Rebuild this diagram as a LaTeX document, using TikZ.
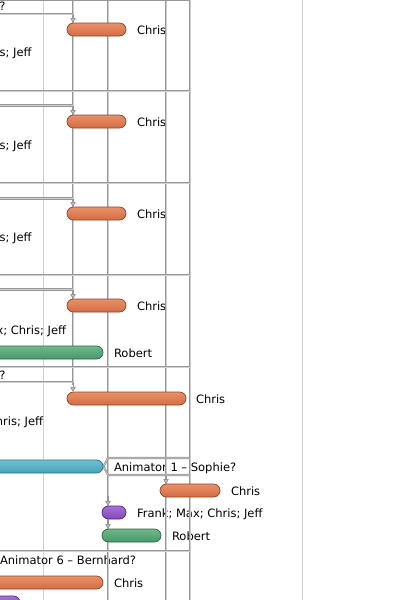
\documentclass[tikz,border=0pt]{standalone}
\usepackage{fontspec}
\setmainfont{DejaVu Sans}
\usetikzlibrary{arrows.meta,calc}
\definecolor{orgfill}{HTML}{D56C44}
\definecolor{orgtop}{HTML}{E8916A}
\definecolor{orgline}{HTML}{8C4529}
\definecolor{grnfill}{HTML}{47996A}
\definecolor{grntop}{HTML}{6DB98A}
\definecolor{grnline}{HTML}{2E6644}
\definecolor{tealfill}{HTML}{44A2B8}
\definecolor{tealtop}{HTML}{6FC0D2}
\definecolor{tealline}{HTML}{2C7486}
\definecolor{purfill}{HTML}{8448BA}
\definecolor{purtop}{HTML}{A870D8}
\definecolor{purline}{HTML}{55297D}
\definecolor{gridc}{HTML}{979797}
\definecolor{gridin}{HTML}{CFCFCF}
\begin{document}
\begin{tikzpicture}[x=1pt,y=-1pt,
  every node/.style={font=\fontsize{11.5}{14}\selectfont, inner sep=0pt, outer sep=0pt},
  gline/.style={draw=gridc, line width=0.75pt, double=gridin, double distance=0.6pt},
  faint/.style={draw=black!18, line width=0.8pt},
  bar/.style={rounded corners=6.5pt, minimum height=13pt, line width=0.7pt},
  obar/.style={bar, draw=orgline, top color=orgtop, bottom color=orgfill},
  gbar/.style={bar, draw=grnline, top color=grntop, bottom color=grnfill},
  tbar/.style={bar, draw=tealline, top color=tealtop, bottom color=tealfill},
  pbar/.style={bar, draw=purline, top color=purtop, bottom color=purfill},
  lbl/.style={anchor=base west},
  lblr/.style={anchor=base east},
  tip/.style={draw=gridc, line width=0.9pt, -{Triangle[width=5.5pt,length=5pt,fill=gridin]}},
]
\useasboundingbox (0,0) rectangle (404,600);
\fill[white] (0,0) rectangle (404,600);
\clip (0,0) rectangle (404,600);

% faint calendar lines
\draw[faint] (43.5,0) -- (43.5,600);
\draw[faint] (302,0) -- (302,600);

% text labels
\node[lblr] (qA) at (5.5,10.5) {?};
\node[lblr] (resA) at (31.5,56.5) {Frank; Max; Chris; Jeff};
\node[lblr] (resB) at (31.5,149.5) {Frank; Max; Chris; Jeff};
\node[lblr] (resC) at (31.5,241.5) {Frank; Max; Chris; Jeff};
\node[lblr] (resD) at (66,334.5) {Frank; Max; Chris; Jeff};
\node[lblr] (qE) at (5.5,379.5) {?};
\node[lblr] (resE) at (43,425.5) {Frank; Max; Chris; Jeff};

\node[lbl] (cA) at (137,34) {Chris};
\node[lbl] (cB) at (137,126) {Chris};
\node[lbl] (cC) at (137,218) {Chris};
\node[lbl] (cD) at (137,310) {Chris};
\node[lbl] (rD) at (114,357) {Robert};
\node[lbl] (cE) at (196,403) {Chris};
\node[lbl] (anF) at (114,471) {Animator 1 – Sophie?};
\node[lbl] (cF) at (231,495) {Chris};
\node[lbl] (fF) at (137,517) {Frank; Max; Chris; Jeff};
\node[lbl] (rF) at (172,540) {Robert};
\node[lbl] (anG) at (0,564) {Animator 6 – Bernhard?};
\node[lbl] (cG) at (114,587) {Chris};

% grid / connector lines
\draw[gline] (73,-2) -- (73,385);
\draw[gline] (108,-2) -- (108,602);
\draw[gline] (166,-2) -- (166,602);
\draw[gline] (190,-2) -- (190,602);
\draw[gline] (-2,-0.5) -- (190,-0.5);
\draw[gline] (-2,14) -- (73,14);
\draw[gline] (-2,91) -- (190,91);
\draw[gline] (-2,105.5) -- (73,105.5);
\draw[gline] (-2,183) -- (190,183);
\draw[gline] (-2,198.5) -- (73,198.5);
\draw[gline] (-2,275) -- (190,275);
\draw[gline] (-2,289.5) -- (73,289.5);
\draw[gline] (-2,367) -- (190,367);
\draw[gline] (-2,382) -- (73,382);
\draw[gline] (190,458) -- (108,458) -- (103.5,466.5) -- (108,475) -- (190,475);
\draw[gline] (-2,551) -- (190,551);

% bars
\node[obar, minimum width=59pt] (bA) at (96.5,29.5) {};
\node[obar, minimum width=59pt] (bB) at (96.5,121.5) {};
\node[obar, minimum width=59pt] (bC) at (96.5,213.5) {};
\node[obar, minimum width=59pt] (bD) at (96.5,305.5) {};
\node[gbar, minimum width=110pt] (gD) at (48,352.5) {};
\node[obar, minimum width=119pt] (bE) at (126.5,398.5) {};
\node[tbar, minimum width=110pt] (tF) at (48,466.5) {};
\node[obar, minimum width=60pt] (bF) at (190,490.5) {};
\node[pbar, minimum width=24pt] (pF) at (114,512.5) {};
\node[gbar, minimum width=59pt] (gF) at (131.5,535.5) {};
\node[obar, minimum width=110pt] (bG) at (48,582.5) {};
\node[pbar, minimum width=26pt] (pG) at (7,602.5) {};

% dependency arrow tips
\coordinate (dA) at (73,14);
\coordinate (dB) at (73,105.5);
\coordinate (dC) at (73,198.5);
\coordinate (dD) at (73,289.5);
\coordinate (dE) at (73,382);
\coordinate (dF1) at (166,476);
\coordinate (dF2) at (108,496);
\coordinate (dF3) at (108,520);
\draw[tip] (dA) -- (dA |- bA.north);
\draw[tip] (dB) -- (dB |- bB.north);
\draw[tip] (dC) -- (dC |- bC.north);
\draw[tip] (dD) -- (dD |- bD.north);
\draw[tip] (dE) -- (dE |- bE.north);
\draw[tip] (dF1) -- (dF1 |- bF.north);
\draw[tip] (dF2) -- (dF2 |- pF.north);
\draw[tip] (dF3) -- (dF3 |- gF.north);
\end{tikzpicture}
\end{document}
